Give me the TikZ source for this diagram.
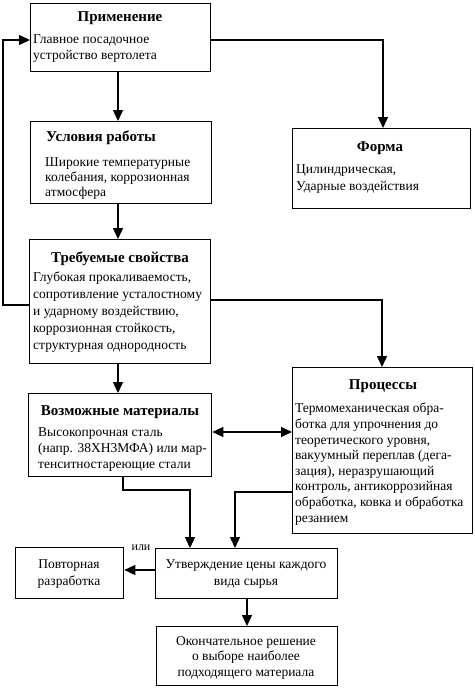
\documentclass[tikz,border=0pt]{standalone}
\usepackage{fontspec}
\setmainfont{Liberation Serif}
\usetikzlibrary{arrows.meta}
\begin{document}
\begin{tikzpicture}[x=1pt,y=-1pt,
  box/.style={draw,line width=1.3pt,anchor=north west,inner sep=0pt},
  ttl/.style={inner sep=0pt,font={\fontsize{15}{17}\selectfont\bfseries}},
  txt/.style={inner sep=0pt,anchor=north west,align=left,font={\fontsize{13.5}{17}\selectfont}},
  ctxt/.style={inner sep=0pt,anchor=north,align=center,font={\fontsize{13.5}{17}\selectfont}},
  conn/.style={line width=1.4pt,-{Triangle[length=11pt,width=10pt]}},
  dconn/.style={line width=1.4pt,{Triangle[length=11pt,width=10pt]}-{Triangle[length=11pt,width=10pt]}}]
\useasboundingbox[fill=white] (0,0) rectangle (474,688);
% boxes
\node[box,minimum width=180pt,minimum height=68pt] (b1) at (30,3) {};
\node[box,minimum width=181pt,minimum height=82pt] (b2) at (30,121) {};
\node[box,minimum width=178pt,minimum height=80pt] (b4) at (292,128) {};
\node[box,minimum width=181pt,minimum height=124pt] (b3) at (29,239) {};
\node[box,minimum width=180pt,minimum height=166pt] (b5) at (292,367) {};
\node[box,minimum width=183pt,minimum height=83pt] (b6) at (28,393) {};
\node[box,minimum width=182pt,minimum height=50pt] (b7) at (155,548) {};
\node[box,minimum width=108pt,minimum height=51pt] (b8) at (15,547) {};
\node[box,minimum width=181pt,minimum height=59pt] (b9) at (156,626) {};
% texts
\node[ttl] (t1) at (120,18) {Применение};
\node[txt,font={\fontsize{13.5}{16}\selectfont}] (x1) at (33,34) {Главное посадочное\\устройство вертолета};
\node[ttl,anchor=west] (t2) at (46,138) {Условия работы};
\node[txt,font={\fontsize{13.5}{15}\selectfont}] (x2) at (45,157) {Широкие температурные\\колебания, коррозионная\\атмосфера};
\node[ttl] (t3) at (120,259) {Требуемые свойства};
\node[txt] (x3) at (33,272) {Глубокая прокаливаемость,\\сопротивление усталостному\\и ударному воздействию,\\коррозионная стойкость,\\структурная однородность};
\node[ttl] (t4) at (380,148) {Форма};
\node[txt] (x4) at (296,164) {Цилиндрическая,\\Ударные воздействия};
\node[ttl] (t5) at (383,386) {Процессы};
\node[txt,font={\fontsize{13.5}{15.6}\selectfont}] (x5) at (295,403) {Термомеханическая обра-\\ботка для упрочнения до\\теоретического уровня,\\вакуумный переплав (дега-\\зация), неразрушающий\\контроль, антикоррозийная\\обработка, ковка и обработка\\резанием};
\node[ttl] (t6) at (120,412) {Возможные материалы};
\node[txt,font={\fontsize{13.5}{16}\selectfont}] (x6) at (38,427) {Высокопрочная сталь\\(напр. 38ХН3МФА) или мар-\\тенситностареющие стали};
\node[ctxt] (x7) at (246,559) {Утверждение цены каждого\\вида сырья};
\node[ctxt] (x8) at (69,559) {Повторная\\разработка};
\node[ctxt,font={\fontsize{13.5}{15.5}\selectfont}] (x9) at (246,636) {Окончательное решение\\о выборе наиболее\\подходящего материала};
\node[inner sep=0pt,font={\fontsize{12}{13}\selectfont}] (ili) at (141,548) {или};
% connectors
\coordinate (l1) at (3,305);
\coordinate (l2) at (3,40);
\draw[conn] (b3.west |- l1) -- (l1) -- (l2) -- (b1.west |- l2);
\coordinate (r1) at (383,40);
\draw[conn] (b1.east |- r1) -- (r1) -- (b4.north -| r1);
\draw[conn] (b1.south -| 118,0) -- (b2.north -| 118,0);
\draw[conn] (b2.south -| 118,0) -- (b3.north -| 118,0);
\coordinate (r2) at (382,300);
\draw[conn] (b3.east |- r2) -- (r2) -- (b5.north -| r2);
\draw[conn] (b3.south -| 118,0) -- (b6.north -| 118,0);
\draw[dconn] (b6.east |- 0,432) -- (b5.west |- 0,432);
\coordinate (m1) at (123,490);
\coordinate (m2) at (190,490);
\draw[conn] (b6.south -| m1) -- (m1) -- (m2) -- (b7.north -| m2);
\coordinate (p1) at (235,492);
\draw[conn] (b5.west |- p1) -- (p1) -- (b7.north -| p1);
\draw[conn] (b7.west |- 0,570) -- (b8.east |- 0,570);
\draw[conn] (b7.south -| 247,0) -- (b9.north -| 247,0);
\end{tikzpicture}
\end{document}
